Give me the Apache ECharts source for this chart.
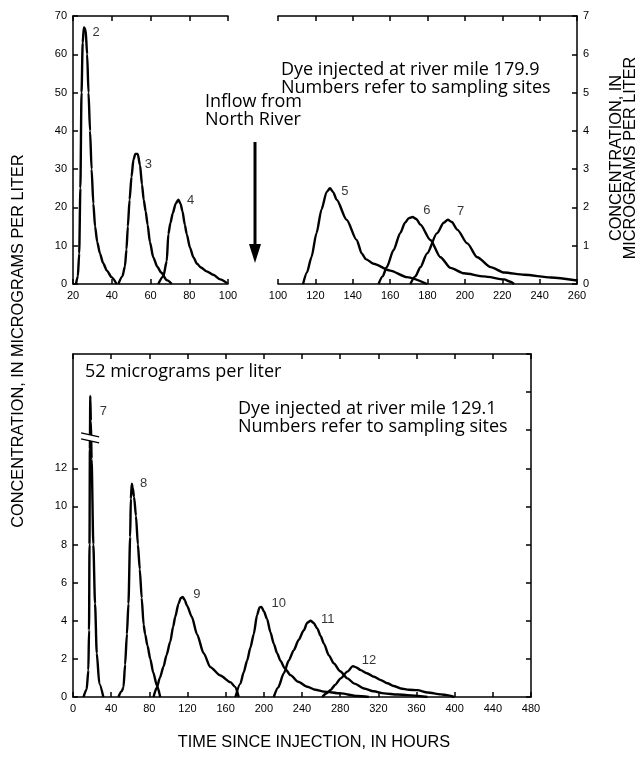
<!DOCTYPE html>
<html><head><meta charset="utf-8">
<script src="https://cdn.jsdelivr.net/npm/echarts/dist/echarts.min.js"></script>
<style>html,body{margin:0;padding:0;background:#fff}#c{width:642px;height:757px}</style>
</head><body><div id="c"></div>
<script>
// ---- Top panel, left part (hours 20-100, left axis 0-70 ug/L) ----
const site2 = [[21.5,0],[22.5,2],[23.2,8],[23.8,25],[24.4,50],[25,63],[25.6,67],[26.5,66.5],[27.3,60],[28,50],[28.8,40],[29.6,30],[30.5,21],[31.4,15],[32.5,11],[33.9,8],[35.5,5.5],[37.5,3.5],[39.9,1.8],[42.5,0]];
const site3 = [[43.4,0],[45.5,2],[46.8,4.6],[47.6,9],[48.3,15],[49.2,22],[50.2,28],[51.2,32.5],[52.2,34],[53.4,34],[54.6,31],[55.6,26],[56.5,22],[57.5,19],[58.5,15.5],[59.7,11],[61.4,7],[63.5,4.5],[65.5,3],[68.4,1],[71,0]];
const site4 = [[64,0],[66.6,2],[68.4,6],[69.2,13],[70.3,16],[71.5,18.5],[73,21],[74.4,22],[75.5,21],[76.5,19],[77.7,15.5],[78.7,13],[80.4,9.5],[82.1,7],[84,5.3],[86,4.3],[89,3.3],[92.4,2.4],[96,1.2],[99.5,0.2]];
// ---- Top panel, right part (hours 100-260, right axis 0-7 ug/L) ----
const site5 = [[113.4,0],[115.5,0.3],[117.9,0.7],[120.6,1.33],[123.3,1.95],[126,2.4],[127.8,2.5],[129.5,2.4],[131.4,2.2],[136.7,1.68],[142.1,1.15],[144.8,0.8],[147,0.65],[151.1,0.53],[160,0.35],[169,0.18],[179.7,0]];
const site6 = [[153.8,0],[156,0.2],[158.2,0.44],[161.8,0.88],[165.4,1.33],[168,1.6],[170,1.72],[172,1.75],[174,1.7],[176.2,1.55],[181.5,1.15],[186.9,0.7],[192.3,0.42],[199.5,0.28],[210.2,0.2],[221,0.12],[224.5,0.06],[226.3,0]];
const site7a = [[170.8,0],[173.5,0.2],[176.2,0.44],[179.8,0.8],[185.1,1.33],[188.7,1.6],[190.9,1.68],[193,1.62],[195.9,1.42],[201.3,1.06],[206.6,0.7],[213.8,0.44],[221,0.3],[231.7,0.24],[246,0.17],[260,0.09]];
// ---- Bottom panel (hours 0-480, 0-18 ug/L; site 7 peak is 52, drawn broken) ----
const site7b = [[11,0],[14.3,0.4],[16.1,1.4],[16.8,3.5],[17.3,8],[17.7,13],[18.1,15.8],[18.7,14.5],[19.5,12.5],[21.3,8],[23.1,4.9],[24.9,2.3],[27.6,0.7],[31.8,0]];
const site8 = [[47.6,0],[51,0.3],[52.9,0.5],[54.6,1.7],[56.5,3.3],[58.1,4.9],[59.9,8.4],[60.6,10.4],[61.6,11.2],[62.5,11],[64,10.5],[66,9.5],[68,8],[70,6.7],[72,5.2],[74,3.8],[75.6,3.3],[78,2.7],[81,2],[84,1.3],[88,0.6],[91.4,0]];
const site9 = [[84.4,0],[87.9,0.5],[91,1.0],[94.9,1.6],[98,2.2],[101.9,2.9],[105,3.7],[107.1,4.2],[110.6,4.9],[113,5.2],[115,5.25],[117,5.1],[119.4,4.8],[124.6,4.2],[129.9,3.3],[136.9,2.3],[143.9,1.57],[154.4,1.13],[164.9,0.78],[170.2,0.52],[173.7,0]];
const site10 = [[170.2,0],[175.4,0.7],[178.9,1.3],[182.4,1.9],[186,2.6],[189.4,3.3],[192.9,4.3],[195.5,4.7],[197.5,4.73],[200,4.5],[203.4,4.1],[206.9,3.4],[210.4,2.8],[213.9,2.3],[217.4,1.9],[222,1.5],[228,1.15],[236,0.8],[245.5,0.54],[254,0.38],[263,0.28],[280.5,0.19],[298,0.05],[310,0]];
const site11 = [[210.4,0],[215,0.5],[221,1.25],[226,1.9],[231.4,2.46],[236.5,3.0],[241.9,3.5],[245.5,3.9],[249,4.0],[252,3.9],[256,3.6],[259.5,3.2],[263,2.8],[268,2.2],[273.4,1.76],[280,1.35],[287.5,0.98],[295,0.7],[305,0.45],[315,0.3],[326,0.19],[340,0.13],[350.5,0.1],[371.5,0]];
const site12 = [[261.2,0],[266,0.2],[270,0.37],[275,0.65],[280.5,0.98],[287.5,1.33],[293.4,1.62],[297,1.55],[301.5,1.41],[308,1.25],[315.5,1.06],[322,0.9],[329.5,0.72],[336,0.58],[343.5,0.45],[352,0.38],[361,0.36],[371.5,0.24],[385.5,0.14],[392,0.1],[399.5,0]];
// ---- Site-number labels [hours, value, text] ----
const labelsTopLeft = [[31.9,65.7,'2'],[58.9,31.3,'3'],[80.7,21.9,'4']];
const labelsTopRight = [[135.8,2.43,'5'],[179.7,1.93,'6'],[197.7,1.89,'7']];
const labelsBottom = [[31.9,15.0,'7'],[73.9,11.2,'8'],[129.9,5.4,'9'],[215.7,4.9,'10'],[267,4.05,'11'],[310.2,1.94,'12']];
// ---- Tick values ----
const bottomLeftTicks = [0,2,4,6,8,10,12];
const breakPoint = [17.9, 13.6];

const AX = 'Liberation Sans, Arial, Helvetica, sans-serif';
const AN = 'Open Sans, sans-serif';
const lineStyle = {color:'#000', width:1.5};

function xAx(grid, min, max, interval, pos, labels, line) {
  return {type:'value', gridIndex:grid, min, max, interval, position:pos,
    axisLine:{show:line!==false, onZero:false, lineStyle},
    axisTick:{show:true, inside:true, length:5, lineStyle},
    axisLabel:{show:labels, color:'#000', fontFamily:AX, fontSize:11, margin:6},
    splitLine:{show:false}};
}
function yAx(grid, min, max, interval, pos, labels, extra) {
  return Object.assign({type:'value', gridIndex:grid, min, max, interval, position:pos,
    axisLine:{show:true, onZero:false, lineStyle},
    axisTick:{show:true, inside:true, length:5, lineStyle},
    axisLabel:{show:labels, color:'#000', fontFamily:AX, fontSize:11, margin:6},
    splitLine:{show:false}}, extra||{});
}
function curve(data, xi, yi) {
  return {type:'line', data, xAxisIndex:xi, yAxisIndex:yi, showSymbol:false, symbol:'none',
    smooth:0.25, smoothMonotone:'x', lineStyle:{color:'#000', width:2.4}, silent:true, z:3};
}
function lab(data, xi, yi) {
  return {type:'scatter', data, xAxisIndex:xi, yAxisIndex:yi, symbolSize:1,
    itemStyle:{color:'rgba(0,0,0,0)'}, silent:true,
    label:{show:true, position:'inside', formatter:p=>p.data[2], color:'#000', fontFamily:AX, fontSize:13}};
}

const chart = echarts.init(document.getElementById('c'), null, {renderer:'canvas'});
const option = {
  animation:false,
  backgroundColor:'#fff',
  grid:[
    {left:73, top:16, width:155, height:268},
    {left:278, top:16, width:299, height:268},
    {left:73, top:354, width:458, height:343}
  ],
  xAxis:[
    xAx(0,20,100,20,'bottom',true),
    xAx(0,20,100,20,'top',false),
    xAx(1,100,260,20,'bottom',true),
    xAx(1,100,260,20,'top',false),
    xAx(2,0,480,40,'bottom',true),
    xAx(2,0,480,40,'top',false)
  ],
  yAxis:[
    yAx(0,0,70,10,'left',true),
    yAx(1,0,7,1,'right',true),
    yAx(2,0,18,2,'left',true,{
      axisTick:{show:true, inside:true, length:5, lineStyle, customValues:bottomLeftTicks},
      axisLabel:{show:true, color:'#000', fontFamily:AX, fontSize:11, margin:6, customValues:bottomLeftTicks}}),
    yAx(2,0,18,2,'right',false)
  ],
  series:[
    curve(site2,0,0), curve(site3,0,0), curve(site4,0,0),
    curve(site5,2,1), curve(site6,2,1), curve(site7a,2,1),
    curve(site7b,4,2), curve(site8,4,2), curve(site9,4,2), curve(site10,4,2), curve(site11,4,2), curve(site12,4,2),
    lab(labelsTopLeft,0,0), lab(labelsTopRight,2,1), lab(labelsBottom,4,2)
  ]
};
chart.setOption(option);

const bp = chart.convertToPixel({gridIndex:2}, breakPoint);
const bx = bp[0], by = bp[1];
chart.setOption({graphic:[
  // axis titles
  {type:'text', x:19, y:341, rotation:Math.PI/2, style:{text:'CONCENTRATION, IN MICROGRAMS PER LITER', font:'16.3px '+AX, fill:'#000', textAlign:'center', textVerticalAlign:'middle'}},
  {type:'text', x:624, y:158, rotation:Math.PI/2, style:{text:'CONCENTRATION, IN\nMICROGRAMS PER LITER', font:'16.3px '+AX, fill:'#000', textAlign:'center', textVerticalAlign:'middle', lineHeight:14}},
  {type:'text', x:314, y:743, style:{text:'TIME SINCE INJECTION, IN HOURS', font:'16.3px '+AX, fill:'#000', textAlign:'center', textVerticalAlign:'middle'}},
  // annotations
  {type:'text', x:205, y:111, style:{text:'Inflow from\nNorth River', font:'18px '+AN, fill:'#000', textAlign:'left', textVerticalAlign:'middle', lineHeight:18}},
  {type:'text', x:281, y:79, style:{text:'Dye injected at river mile 179.9\nNumbers refer to sampling sites', font:'18px '+AN, fill:'#000', textAlign:'left', textVerticalAlign:'middle', lineHeight:18}},
  {type:'text', x:85, y:372, style:{text:'52 micrograms per liter', font:'18px '+AN, fill:'#000', textAlign:'left', textVerticalAlign:'middle'}},
  {type:'text', x:238, y:418, style:{text:'Dye injected at river mile 129.1\nNumbers refer to sampling sites', font:'18px '+AN, fill:'#000', textAlign:'left', textVerticalAlign:'middle', lineHeight:18}},
  // inflow arrow
  {type:'line', shape:{x1:255, y1:142, x2:255, y2:248}, style:{stroke:'#000', lineWidth:3}},
  {type:'polygon', shape:{points:[[249,244],[261,244],[255,263]]}, style:{fill:'#000'}},
  // axis break symbol on site 7 spike
  {type:'polygon', z:10, shape:{points:[[bx-9,by-5],[bx+9,by-1],[bx+9,by+5],[bx-9,by+1]]}, style:{fill:'#fff'}},
  {type:'line', z:11, shape:{x1:bx-9, y1:by-5, x2:bx+9, y2:by-1}, style:{stroke:'#000', lineWidth:1.3}},
  {type:'line', z:11, shape:{x1:bx-9, y1:by+1, x2:bx+9, y2:by+5}, style:{stroke:'#000', lineWidth:1.3}}
]});
</script>
</body></html>
